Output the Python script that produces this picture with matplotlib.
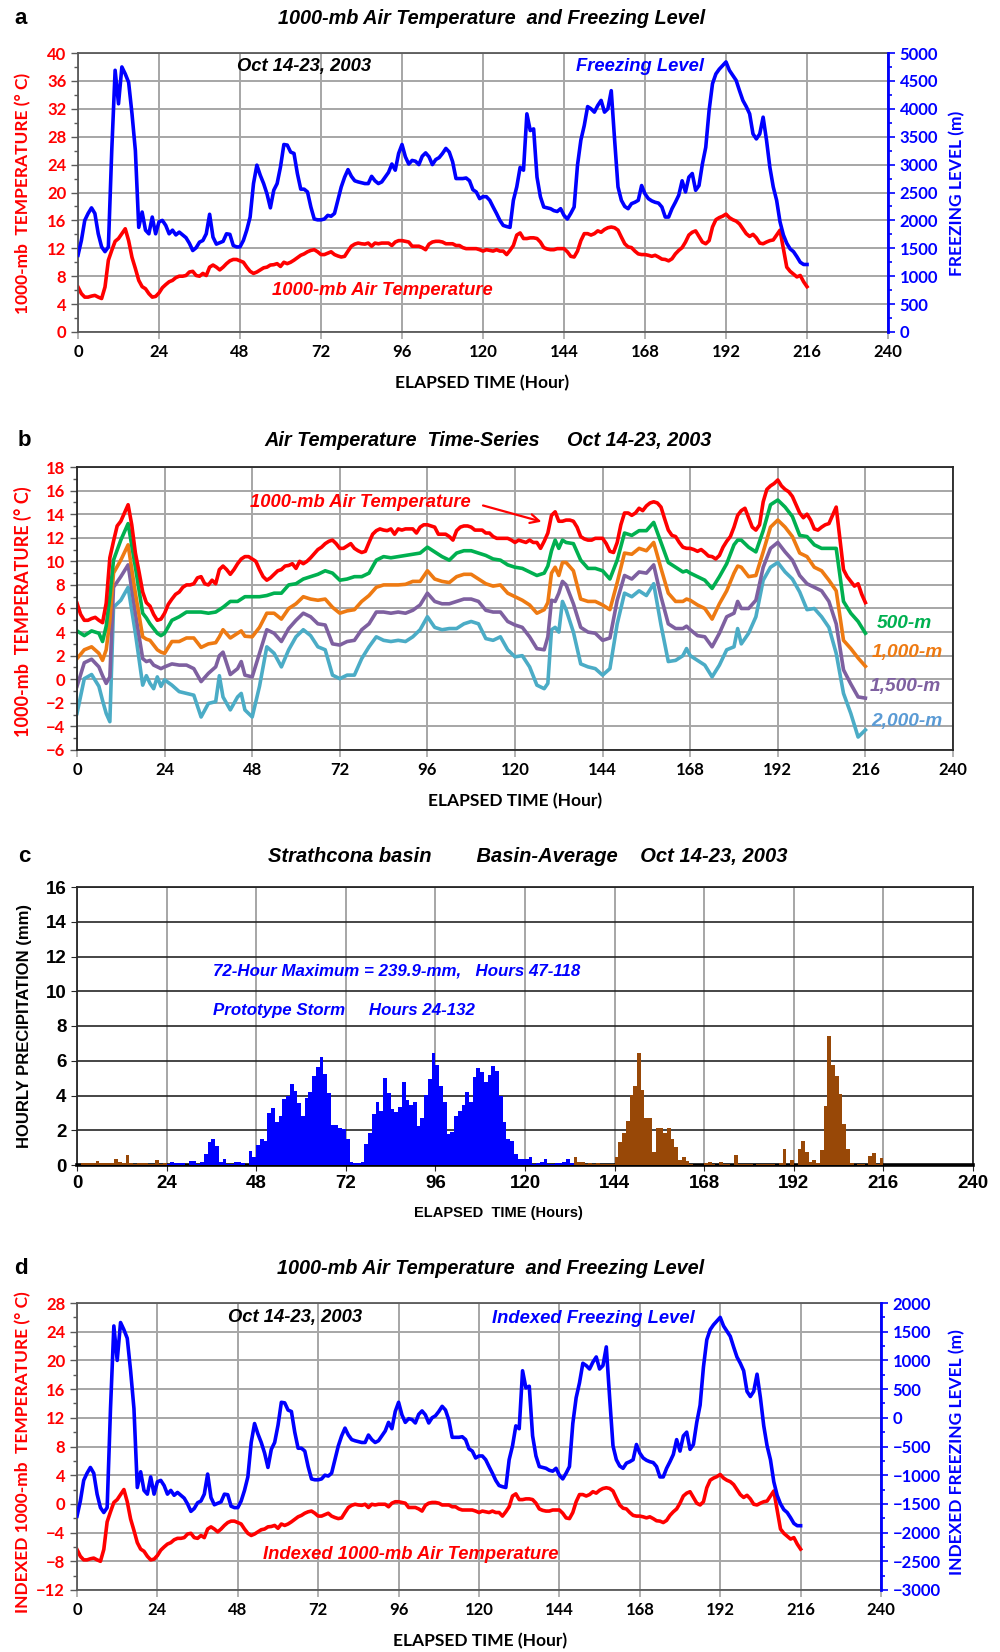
import numpy as np
import matplotlib
matplotlib.use('Agg')
import matplotlib.pyplot as plt
from matplotlib.ticker import MultipleLocator

# ---- data ----
hours = np.arange(217)

# 1000-mb air temperature (deg C), hourly 0..216
temp_1000mb = [
    6.45, 5.5, 5.0, 5.0, 5.15, 5.25, 5.0, 4.8, 6.45, 10.3,
    11.7, 13.0, 13.4, 14.1, 14.8, 13.1, 10.7, 9.1, 7.4, 6.5,
    6.2, 5.5, 5.0, 5.1, 5.6, 6.35, 6.8, 7.2, 7.4, 7.8,
    8.0, 8.0, 8.1, 8.6, 8.7, 8.1, 8.0, 8.4, 8.1, 9.3,
    9.6, 9.3, 8.9, 9.3, 9.8, 10.2, 10.4, 10.4, 10.2, 10.0,
    9.3, 8.7, 8.4, 8.6, 8.9, 9.2, 9.3, 9.6, 9.65, 9.8,
    9.4, 10.0, 9.8, 10.0, 10.3, 10.65, 11.0, 11.2, 11.5, 11.7,
    11.8, 11.5, 11.1, 11.1, 11.3, 11.5, 11.1, 10.9, 10.75, 10.85,
    11.6, 12.3, 12.6, 12.75, 12.65, 12.6, 12.75, 12.3, 12.75, 12.65,
    12.75, 12.75, 12.75, 12.4, 12.9, 13.1, 13.1, 13.0, 12.9, 12.3,
    12.3, 12.3, 12.1, 11.8, 12.6, 12.9, 13.0, 13.0, 12.9, 12.65,
    12.65, 12.65, 12.4, 12.4, 12.1, 11.95, 11.95, 11.95, 11.95, 11.8,
    11.6, 11.8, 11.7, 11.6, 11.8, 11.6, 11.6, 11.1, 11.7, 12.4,
    13.9, 14.2, 13.4, 13.4, 13.5, 13.5, 13.4, 12.9, 12.1, 11.9,
    11.8, 11.8, 11.95, 11.95, 11.95, 11.5, 10.85, 10.75, 11.6, 13.1,
    14.1, 14.1, 13.9, 14.1, 14.5, 14.3, 14.7, 14.95, 15.05, 14.95,
    14.6, 13.6, 12.65, 12.2, 12.1, 11.6, 11.2, 11.1, 11.1, 11.0,
    10.85, 11.0, 10.75, 10.45, 10.4, 10.2, 10.5, 11.2, 11.7, 12.1,
    12.9, 13.9, 14.3, 14.5, 13.7, 12.9, 12.65, 13.1, 15.05, 16.1,
    16.4, 16.6, 16.9, 16.4, 16.1, 15.9, 15.5, 14.8, 14.1, 13.7,
    14.0, 13.5, 12.75, 12.65, 12.9, 13.1, 13.2, 13.9, 14.6, 11.95,
    9.3, 8.7, 8.3, 7.9, 8.1, 7.2, 6.5,
]

# freezing level (m), hourly 0..216
freezing_level = [
    1375, 1640, 2000, 2125, 2225, 2125, 1760, 1525, 1440, 1525,
    3250, 4690, 4090, 4750, 4625, 4475, 3910, 3250, 1875, 2150,
    1825, 1760, 2060, 1760, 1975, 2000, 1910, 1760, 1825, 1740,
    1790, 1740, 1690, 1590, 1460, 1510, 1610, 1640, 1760, 2110,
    1700, 1575, 1600, 1625, 1760, 1750, 1550, 1525, 1525, 1640,
    1825, 2060, 2660, 2990, 2810, 2660, 2475, 2225, 2540, 2660,
    2960, 3360, 3350, 3225, 3200, 2840, 2560, 2560, 2510, 2240,
    2025, 2010, 2010, 2025, 2090, 2075, 2125, 2360, 2600, 2775,
    2910, 2790, 2710, 2690, 2675, 2660, 2660, 2790, 2710, 2660,
    2690, 2775, 2860, 3010, 2900, 3200, 3360, 3140, 3010, 3075,
    3060, 3000, 3150, 3210, 3140, 3000, 3090, 3125, 3200, 3290,
    3225, 3050, 2750, 2750, 2750, 2760, 2710, 2550, 2510, 2390,
    2425, 2425, 2360, 2240, 2125, 2000, 1910, 1890, 1875, 2360,
    2600, 2950, 2900, 3910, 3610, 3640, 2775, 2425, 2240, 2225,
    2210, 2175, 2160, 2210, 2090, 2025, 2125, 2240, 2990, 3440,
    3700, 4040, 4000, 3940, 4060, 4150, 3940, 4000, 4325, 3440,
    2600, 2360, 2250, 2210, 2300, 2325, 2360, 2625, 2475, 2390,
    2350, 2325, 2310, 2240, 2060, 2060, 2210, 2325, 2450, 2710,
    2510, 2775, 2840, 2540, 2625, 3010, 3310, 3975, 4450, 4625,
    4710, 4775, 4840, 4690, 4600, 4510, 4325, 4150, 4040, 3910,
    3550, 3460, 3550, 3850, 3440, 2950, 2600, 2360, 1975, 1740,
    1590, 1490, 1440, 1350, 1250, 1210, 1210,
]

# upper-level temperatures (panel b)
hours_b = [0, 2, 4, 6, 7, 8, 9, 10, 12, 14, 16, 18, 19, 20, 21, 22, 23, 24,
           26, 28, 30, 32, 34, 36, 38, 39, 40, 42, 44, 45, 46, 48, 50, 52,
           54, 56, 58, 60, 62, 64, 66, 68, 70, 72, 74, 76, 78, 80, 82, 84,
           86, 88, 90, 92, 94, 96, 98, 100, 102, 104, 106, 108, 110, 112,
           114, 116, 118, 120, 122, 124, 126, 128, 129, 130, 131, 132, 133,
           134, 136, 138, 140, 142, 144, 146, 148, 150, 152, 154, 156, 158,
           160, 162, 164, 166, 167, 168, 170, 172, 174, 176, 178, 180, 181,
           182, 184, 186, 188, 190, 192, 194, 196, 198, 200, 202, 204, 206,
           208, 210, 212, 214, 216]
temp_500m = [4.1, 3.7, 4.1, 3.9, 3.2, 4.5, 7.0, 10.1, 11.8, 13.2, 9.5, 5.6, 5.2,
             4.7, 4.3, 3.9, 3.7, 3.9, 5.0, 5.3, 5.7, 5.7, 5.7, 5.6, 5.7, 5.9,
             6.1, 6.6, 6.6, 6.8, 7.0, 7.0, 7.0, 7.1, 7.3, 7.3, 8.0, 8.1, 8.5,
             8.7, 8.9, 9.2, 9.0, 8.4, 8.5, 8.7, 8.7, 9.0, 10.1, 10.4, 10.3,
             10.4, 10.5, 10.6, 10.7, 11.2, 10.8, 10.4, 10.1, 10.7, 10.9, 10.9,
             10.7, 10.5, 10.2, 10.1, 9.7, 9.5, 9.4, 9.1, 8.8, 9.0, 9.6, 10.9,
             11.8, 11.1, 11.8, 11.6, 11.5, 10.1, 9.4, 9.4, 9.2, 8.5, 10.1,
             12.4, 12.2, 12.6, 12.6, 13.3, 11.6, 9.9, 9.5, 9.1, 9.2, 9.0, 8.7,
             8.4, 7.7, 8.7, 9.8, 11.4, 11.8, 11.8, 11.2, 10.8, 12.6, 14.8,
             15.2, 14.6, 13.8, 12.2, 12.1, 11.4, 11.1, 11.1, 11.1, 6.6, 5.6,
             4.9, 3.9]
temp_1000m = [1.75, 2.5, 2.75, 2.2, 1.6, 2.5, 5.0, 9.0, 10.1, 11.4, 7.3, 3.6,
              3.4, 3.3, 2.9, 2.5, 2.3, 2.2, 3.2, 3.2, 3.5, 3.5, 2.7, 3.0, 3.1,
              3.6, 4.2, 3.5, 3.9, 4.1, 3.65, 3.6, 4.4, 5.6, 5.6, 5.1, 6.0,
              6.4, 7.0, 6.8, 6.7, 6.8, 6.1, 5.6, 5.8, 5.9, 6.6, 7.1, 7.8, 8.0,
              8.0, 8.0, 8.05, 8.3, 8.3, 9.2, 8.5, 8.3, 8.2, 8.7, 8.9, 8.9,
              8.5, 8.1, 7.9, 8.0, 7.3, 7.0, 6.7, 6.3, 5.6, 5.9, 6.5, 9.0, 9.5,
              8.8, 9.9, 9.9, 9.2, 6.8, 6.6, 6.6, 6.3, 5.9, 8.2, 10.7, 10.6,
              11.1, 10.9, 11.6, 9.4, 7.3, 6.6, 6.6, 6.8, 6.7, 6.3, 6.0, 5.1,
              6.4, 7.5, 9.0, 9.6, 9.5, 8.7, 8.8, 10.8, 12.9, 13.5, 12.9, 12.1,
              10.7, 10.4, 9.5, 9.2, 8.4, 7.5, 3.3, 2.6, 1.8, 1.1]
temp_1500m = [-0.6, 1.4, 1.7, 1.05, 0.3, -0.35, 0.2, 7.8, 8.7, 9.7, 5.6, 1.75,
              1.5, 1.6, 1.2, 1.05, 0.9, 1.05, 1.3, 1.2, 1.2, 0.9, -0.2, 0.5,
              1.05, 2.0, 2.3, 0.4, 0.9, 1.5, 0.35, 0.2, 2.2, 4.2, 3.9, 3.2,
              4.3, 5.0, 5.6, 5.3, 4.7, 4.6, 3.0, 2.9, 3.2, 3.3, 4.2, 4.7, 5.7,
              5.7, 5.6, 5.7, 5.6, 5.85, 6.3, 7.3, 6.6, 6.4, 6.4, 6.6, 6.8,
              6.8, 6.6, 5.85, 5.7, 5.7, 4.9, 4.6, 4.4, 3.6, 2.6, 2.5, 3.6,
              6.7, 6.6, 7.3, 8.3, 8.0, 6.4, 4.4, 4.0, 3.9, 3.3, 3.5, 6.7, 8.8,
              8.5, 9.1, 9.0, 9.7, 7.0, 4.7, 4.3, 4.3, 4.5, 4.2, 3.7, 3.6, 2.75,
              3.9, 5.3, 5.6, 6.6, 6.0, 6.0, 6.7, 9.5, 11.1, 11.6, 10.8, 10.1,
              8.8, 8.1, 7.8, 7.5, 6.6, 4.7, 0.8, -0.4, -1.5, -1.6]
temp_2000m = [-2.9, 0.05, 0.4, -0.6, -1.8, -2.9, -3.6, 6.1, 6.7, 7.8, 3.9,
              -0.5, 0.3, -0.35, -0.8, 0.2, -0.6, -0.05, -0.5, -1.05, -1.2,
              -1.35, -3.2, -2.05, -1.9, 0.3, -1.5, -2.6, -1.5, -1.2, -2.6,
              -3.2, -0.6, 2.75, 2.2, 1.05, 2.5, 3.6, 4.2, 3.7, 2.75, 2.5, 0.35,
              0.05, 0.35, 0.35, 1.75, 2.75, 3.6, 3.3, 3.2, 3.3, 3.2, 3.6, 4.2,
              5.3, 4.4, 4.2, 4.3, 4.3, 4.7, 4.9, 4.7, 3.45, 3.3, 3.6, 2.5, 1.9,
              2.0, 1.05, -0.5, -0.8, -0.35, 4.2, 4.4, 4.0, 6.6, 5.9, 4.0, 1.3,
              1.05, 0.9, 0.35, 0.9, 4.7, 7.3, 7.0, 7.5, 7.1, 8.1, 4.6, 1.5,
              1.6, 2.0, 2.6, 2.0, 1.6, 1.2, 0.2, 1.2, 2.5, 2.75, 4.3, 3.0, 3.9,
              5.3, 8.4, 9.5, 9.9, 9.1, 8.5, 7.4, 5.9, 6.0, 5.3, 4.4, 2.2, -1.2,
              -2.9, -4.9, -4.3]

# hourly basin-average precipitation (mm), bar for hour h covers [h, h+1]
precip = [
    0.0, 0.1, 0.1, 0.1, 0.1, 0.25, 0.1, 0.1, 0.1, 0.1,
    0.35, 0.15, 0.1, 0.6, 0.1, 0.05, 0.1, 0.12, 0.1, 0.05,
    0.05, 0.3, 0.05, 0.1, 0.05, 0.17, 0.12, 0.1, 0.1, 0.02,
    0.25, 0.25, 0.05, 0.15, 0.65, 1.35, 1.47, 1.1, 0.17, 0.36,
    0.05, 0.05, 0.2, 0.15, 0.1, 0.02, 0.8, 0.48, 1.16, 1.47,
    1.4, 2.99, 3.26, 2.48, 2.82, 3.77, 3.96, 4.67, 4.25, 3.54,
    2.84, 3.87, 4.19, 5.12, 5.64, 6.2, 5.24, 4.13, 2.3, 2.3,
    2.11, 2.1, 1.52, 0.15, 0.1, 0.1, 0.2, 1.2, 1.83, 2.95,
    3.6, 3.12, 5.03, 4.15, 3.24, 3.05, 3.35, 4.78, 3.73, 3.47,
    3.62, 2.27, 2.72, 4.02, 4.97, 6.46, 5.77, 4.57, 3.64, 1.77,
    1.9, 2.8, 3.12, 3.45, 4.23, 3.62, 5.05, 5.6, 5.33, 4.8,
    5.16, 5.7, 5.43, 3.98, 2.46, 1.52, 1.41, 0.65, 0.36, 0.36,
    0.36, 0.45, 0.04, 0.1, 0.15, 0.36, 0.08, 0.08, 0.1, 0.1,
    0.2, 0.35, 0.1, 0.48, 0.15, 0.2, 0.05, 0.12, 0.08, 0.12,
    0.05, 0.05, 0.03, 0.03, 0.48, 1.33, 1.83, 2.51, 4.02, 4.55,
    6.42, 4.34, 2.69, 2.69, 0.72, 2.13, 2.15, 1.87, 2.15, 1.49,
    1.05, 0.29, 0.44, 0.21, 0.03, 0.0, 0.0, 0.0, 0.1, 0.18,
    0.05, 0.02, 0.15, 0.05, 0.05, 0.02, 0.57, 0.05, 0.05, 0.05,
    0.05, 0.0, 0.05, 0.05, 0.05, 0.05, 0.05, 0.0, 0.1, 0.91,
    0.02, 0.29, 0.0, 0.91, 1.39, 0.72, 0.15, 0.29, 0.11, 0.86,
    3.39, 7.45, 5.73, 5.1, 4.06, 2.34, 0.91, 0.1, 0.02, 0.03,
    0.08, 0.02, 0.53, 0.67, 0.08, 0.4,
]
storm_hours = (24, 132)

# indexing offsets used for panel d
temp_index_offset = 12.8
fl_index_offset = 3090

# ---- style ----
RED = '#FF0000'
BLUE = '#0000FF'
GREEN = '#00B050'
ORANGE = '#EE7A12'
PURPLE = '#7E60A0'
CYAN = '#4BACC6'
LBLUE = '#5B9BD5'
BROWN = '#984807'
GRID = '#A6A6A6'
SPINE = '#595959'
CAL = 'Lato'
ARIAL = 'Liberation Sans'
ITSIZE = 13.2      # italic annotations
TSIZE = 14.3       # panel titles
TICK = 12

plt.rcParams['font.family'] = [CAL, 'DejaVu Sans']
plt.rcParams['font.weight'] = 'bold'

fig = plt.figure(figsize=(10, 16.52), dpi=100)
W, H = 1000.0, 1652.0


def box(x0, y0, x1, y1):
    return [x0 / W, 1 - y1 / H, (x1 - x0) / W, (y1 - y0) / H]


def ftext(x, y, s, **kw):
    fig.text(x / W, 1 - y / H, s, ha=kw.pop('ha', 'center'),
             va=kw.pop('va', 'center'), **kw)


def itext(ax, x, y, s, color, size=ITSIZE):
    ax.text(x, y, s, color=color, fontsize=size, style='italic',
            family=ARIAL, ha='left', va='center')


def base_axes(ax, ymin, ymax, ystep, ylabcol):
    ax.set_xlim(0, 240)
    ax.set_ylim(ymin, ymax)
    ax.xaxis.set_major_locator(MultipleLocator(24))
    ax.yaxis.set_major_locator(MultipleLocator(ystep))
    ax.yaxis.set_minor_locator(MultipleLocator(ystep / 2))
    ax.grid(True, which='major', color=GRID, lw=1.4)
    ax.set_axisbelow(True)
    ax.tick_params(axis='x', labelsize=TICK, colors='black', length=5,
                   color=GRID, width=1.2)
    ax.tick_params(axis='y', which='both', labelsize=TICK, labelcolor=ylabcol,
                   color=SPINE, length=5, width=1)
    ax.tick_params(axis='y', which='minor', length=3)
    for s in ax.spines.values():
        s.set_color(SPINE)
        s.set_linewidth(1.3)


def right_axis(ax, lo, hi):
    ax2 = ax.twinx()
    ax2.set_ylim(lo, hi)
    ax2.yaxis.set_major_locator(MultipleLocator(500))
    ax2.yaxis.set_minor_locator(MultipleLocator(250))
    ax2.tick_params(axis='y', which='both', labelsize=TICK, labelcolor=BLUE,
                    color=BLUE, length=5, width=1.2)
    ax2.tick_params(axis='y', which='minor', length=3)
    ax2.spines['right'].set_color(BLUE)
    ax2.spines['right'].set_linewidth(2)
    for k in ('top', 'left', 'bottom'):
        ax2.spines[k].set_visible(False)
    return ax2


# ---------- panel a ----------
ax_a = fig.add_axes(box(78, 53, 888, 332))
base_axes(ax_a, 0, 40, 4, RED)
ax_a.plot(hours, temp_1000mb, color=RED, lw=2.6)
ax_a2 = right_axis(ax_a, 0, 5000)
ax_a2.plot(hours, freezing_level, color=BLUE, lw=2.6)
itext(ax_a, 47, 38, 'Oct 14-23, 2003', 'black')
itext(ax_a, 147.5, 38.1, 'Freezing Level', BLUE)
itext(ax_a, 57.5, 5.9, '1000-mb Air Temperature', RED)

ftext(14, 19, 'a', fontsize=16, ha='left', family=ARIAL)
ftext(492, 19, '1000-mb Air Temperature  and Freezing Level', fontsize=TSIZE,
      style='italic', family=ARIAL)
ftext(482, 383, 'ELAPSED TIME (Hour)', fontsize=12.5)
ftext(23, 193, '1000-mb  TEMPERATURE (° C)', fontsize=12.5, color=RED,
      rotation=90)
ftext(957, 193, 'FREEZING LEVEL (m)', fontsize=12.5, color=BLUE, rotation=90)

# ---------- panel b ----------
ax_b = fig.add_axes(box(77, 467, 953, 750))
base_axes(ax_b, -6, 18, 2, RED)
for s in ax_b.spines.values():
    s.set_color('#262626')
ax_b.plot(hours_b, temp_2000m, color=CYAN, lw=2.6)
ax_b.plot(hours_b, temp_1500m, color=PURPLE, lw=2.6)
ax_b.plot(hours_b, temp_1000m, color=ORANGE, lw=2.6)
ax_b.plot(hours_b, temp_500m, color=GREEN, lw=2.6)
ax_b.plot(hours, temp_1000mb, color=RED, lw=2.6)
itext(ax_b, 47.3, 14.95, '1000-mb Air Temperature', RED)
ax_b.annotate('', xy=(128, 13.3), xytext=(110.5, 14.8),
              arrowprops=dict(arrowstyle='->', color=RED, lw=1.6,
                              mutation_scale=16))
itext(ax_b, 219, 4.75, '500-m', GREEN, 13.8)
itext(ax_b, 217.8, 2.3, '1,000-m', ORANGE, 13.8)
itext(ax_b, 217.2, -0.65, '1,500-m', PURPLE, 13.8)
itext(ax_b, 217.6, -3.6, '2,000-m', LBLUE, 13.8)

ftext(18, 440, 'b', fontsize=16, ha='left', family=ARIAL)
ftext(488, 440, 'Air Temperature  Time-Series     Oct 14-23, 2003',
      fontsize=TSIZE, style='italic', family=ARIAL)
ftext(515, 801, 'ELAPSED TIME (Hour)', fontsize=12.5)
ftext(23, 612, '1000-mb  TEMPERATURE (° C)', fontsize=13, color=RED,
      rotation=90)

# ---------- panel c ----------
ax_c = fig.add_axes(box(77, 887, 973, 1165))
bar_colors = [BLUE if storm_hours[0] <= h <= storm_hours[1] else BROWN
              for h in range(len(precip))]
ax_c.bar(np.arange(len(precip)), precip, width=1.0, align='edge',
         color=bar_colors, edgecolor='none', zorder=3)
ax_c.set_xlim(0, 240)
ax_c.set_ylim(0, 16)
ax_c.xaxis.set_major_locator(MultipleLocator(24))
ax_c.yaxis.set_major_locator(MultipleLocator(2))
ax_c.grid(True, axis='x', color=GRID, lw=1.4, zorder=0)
ax_c.grid(True, axis='y', color='#262626', lw=1.2, zorder=0)
ax_c.set_axisbelow(True)
ax_c.tick_params(labelsize=13.5, colors='black', length=4, color='#262626',
                 labelfontfamily=ARIAL)
for s in ax_c.spines.values():
    s.set_color('#262626')
    s.set_linewidth(1.3)
ax_c.spines['bottom'].set_linewidth(2.6)
ax_c.spines['bottom'].set_color('black')
itext(ax_c, 36.3, 11.15, '72-Hour Maximum = 239.9-mm,   Hours 47-118', BLUE,
      12.2)
itext(ax_c, 36.5, 8.9, 'Prototype Storm     Hours 24-132', BLUE, 12.2)

ftext(18, 857, 'c', fontsize=16, ha='left', family=ARIAL)
ftext(528, 857, 'Strathcona basin        Basin-Average    Oct 14-23, 2003',
      fontsize=14.5, style='italic', family=ARIAL)
ftext(498, 1213, 'ELAPSED  TIME (Hours)', fontsize=10.5, family=ARIAL)
ftext(25, 1026, 'HOURLY PRECIPITATION (mm)', fontsize=12, family=ARIAL,
      rotation=90)

# ---------- panel d ----------
temp_indexed = np.array(temp_1000mb) - temp_index_offset
fl_indexed = np.array(freezing_level) - fl_index_offset

ax_d = fig.add_axes(box(77, 1303, 881, 1590))
base_axes(ax_d, -12, 28, 4, RED)
ax_d.plot(hours, temp_indexed, color=RED, lw=2.6)
ax_d2 = right_axis(ax_d, -3000, 2000)
ax_d2.plot(hours, fl_indexed, color=BLUE, lw=2.6)
itext(ax_d, 45, 26, 'Oct 14-23, 2003', 'black')
itext(ax_d, 124, 25.8, 'Indexed Freezing Level', BLUE)
itext(ax_d, 55.5, -7.1, 'Indexed 1000-mb Air Temperature', RED)

ftext(14, 1269, 'd', fontsize=16, ha='left', family=ARIAL)
ftext(491, 1269, '1000-mb Air Temperature  and Freezing Level',
      fontsize=TSIZE, style='italic', family=ARIAL)
ftext(480, 1641, 'ELAPSED TIME (Hour)', fontsize=12.5)
ftext(23, 1452, 'INDEXED 1000-mb  TEMPERATURE (° C)', fontsize=12.5,
      color=RED, rotation=90)
ftext(957, 1452, 'INDEXED FREEZING LEVEL (m)', fontsize=12.5, color=BLUE,
      rotation=90)

fig.savefig('out.png', dpi=100)
